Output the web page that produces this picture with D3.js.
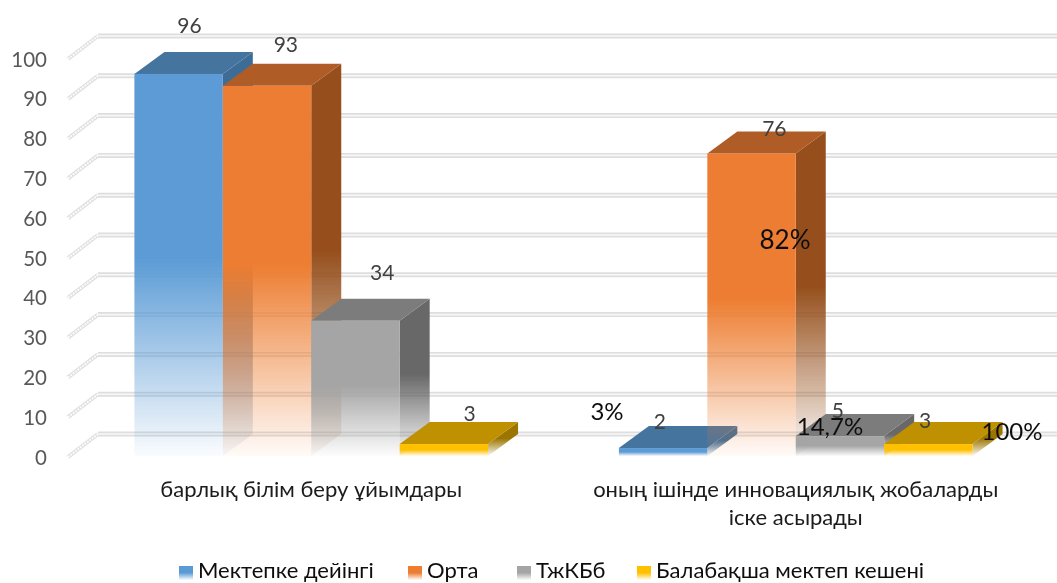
<!DOCTYPE html>
<html>
<head>
<meta charset="utf-8">
<script src="https://cdn.jsdelivr.net/npm/d3@7"></script>
<style>
html, body { margin: 0; padding: 0; background: #fff; }
svg { display: block; }
text { font-family: Lato, "Open Sans", "Noto Sans", sans-serif; }
</style>
</head>
<body>
<svg width="1057" height="583"></svg>
<script>
var categories = ["барлық білім беру ұйымдары", "оның ішінде инновациялық жобаларды іске асырады"];
var seriesNames = ["Мектепке дейінгі", "Орта", "ТжКБб", "Балабақша мектеп кешені"];
var preschool = [96, 2];
var secondary = [93, 76];
var vocational = [34, 5];
var kindergarten = [3, 3];
var yTicks = [0, 10, 20, 30, 40, 50, 60, 70, 80, 90, 100];
var percentNotes = ["3%", "82%", "14,7%", "100%"];

var frontColors = ["#5b9bd5", "#ed7d31", "#a5a5a5", "#ffc000"];
var topColors = ["#44749f", "#b05c25", "#7c7c7c", "#bf9000"];
var sideColors = ["#3e6c96", "#96501d", "#686868", "#9c7500"];

var svg = d3.select("svg");
var defs = svg.append("defs");
var depthX = 30, depthY = -22;

var y = d3.scaleLinear().domain([0, 100]).range([456, 58]);
var x0 = d3.scaleBand().domain(categories).range([69, 1038]).paddingInner(0.27).paddingOuter(0.135);
var x1 = d3.scaleBand().domain(seriesNames).range([0, x0.bandwidth()]);

var allValues = [preschool, secondary, vocational, kindergarten];

function fade(id, color) {
	var g = defs.append("linearGradient").attr("id", id).attr("x1", 0).attr("y1", 0).attr("x2", 0).attr("y2", 1);
	g.append("stop").attr("offset", "48%").attr("stop-color", color).attr("stop-opacity", 1);
	g.append("stop").attr("offset", "100%").attr("stop-color", color).attr("stop-opacity", 0.03);
}
frontColors.forEach(function(c, i) { fade("front" + i, c); });
sideColors.forEach(function(c, i) { fade("side" + i, c); });

defs.append("filter").attr("id", "soft").attr("x", "-2%").attr("y", "-2%").attr("width", "104%").attr("height", "104%")
	.append("feGaussianBlur").attr("stdDeviation", 0.5);
defs.append("filter").attr("id", "softText").attr("x", "-2%").attr("y", "-2%").attr("width", "104%").attr("height", "104%")
	.append("feGaussianBlur").attr("stdDeviation", 0.35);

var chart = svg.append("g").attr("filter", "url(#soft)");

// back wall and side wall grid lines
var grid = chart.append("g");
yTicks.forEach(function(t) {
	var yy = y(t);
	grid.append("line").attr("x1", 68).attr("y1", yy + 1).attr("x2", 68 + depthX).attr("y2", yy + depthY)
		.attr("stroke", "#dedede").attr("stroke-width", 4);
	grid.append("line").attr("x1", 68).attr("y1", yy + 1).attr("x2", 68 + depthX).attr("y2", yy + depthY)
		.attr("stroke", "#fcfcfc").attr("stroke-width", 2).attr("stroke-dasharray", "2 1");
	grid.append("line").attr("x1", 68 + depthX).attr("x2", 1057).attr("y1", yy + depthY).attr("y2", yy + depthY)
		.attr("stroke", "#dedede").attr("stroke-width", 5);
	grid.append("line").attr("x1", 68 + depthX).attr("x2", 1057).attr("y1", yy + depthY).attr("y2", yy + depthY)
		.attr("stroke", "#f8f8f8").attr("stroke-width", 1.6);
});

function poly(pts) {
	return "M" + pts.map(function(p) { return p.join(","); }).join("L") + "Z";
}

// bars, series by series so the faded fronts show what is behind them
var bars = chart.append("g");
seriesNames.forEach(function(name, s) {
	categories.forEach(function(cat, c) {
		var v = allValues[s][c];
		var left = x0(cat) + x1(name), right = left + x1.bandwidth();
		var top = y(v), base = y(0);
		bars.append("path")
			.attr("d", poly([[right, top], [right + depthX, top + depthY], [right + depthX, base + depthY], [right, base]]))
			.attr("fill", "url(#side" + s + ")");
		bars.append("path")
			.attr("d", poly([[left, top], [left + depthX, top + depthY], [right + depthX, top + depthY], [right, top]]))
			.attr("fill", topColors[s]);
		bars.append("rect")
			.attr("x", left).attr("y", top).attr("width", x1.bandwidth()).attr("height", base - top)
			.attr("fill", "url(#front" + s + ")");
	});
});

var labels = svg.append("g").attr("filter", "url(#softText)");

// y axis labels
labels.append("g").selectAll("text").data(yTicks).enter().append("text")
	.attr("x", 47).attr("y", function(d) { return y(d) + 8.5; })
	.attr("text-anchor", "end").attr("font-size", 20.5).attr("fill", "#595959")
	.text(function(d) { return d; });

// value labels were dragged by hand in the original, so each has its own nudge
var labelNudge = [[[55, -41], [41, -19]], [[63, -34], [67, -18]], [[71, -41], [42, -18]], [[70, -23], [41, -16]]];
seriesNames.forEach(function(name, s) {
	categories.forEach(function(cat, c) {
		var v = allValues[s][c];
		labels.append("text")
			.attr("x", x0(cat) + x1(name) + labelNudge[s][c][0])
			.attr("y", y(v) + labelNudge[s][c][1])
			.attr("text-anchor", "middle").attr("font-size", 21).attr("fill", "#404040")
			.text(v);
	});
});

// percent notes typed over the second group
var notePos = [[607, 420], [785, 249], [830, 435], [1012, 440]];
var noteSize = [24, 26, 24, 24];
labels.append("g").selectAll("text").data(percentNotes).enter().append("text")
	.attr("x", function(d, i) { return notePos[i][0]; })
	.attr("y", function(d, i) { return notePos[i][1]; })
	.attr("text-anchor", "middle").attr("fill", "#111")
	.attr("font-size", function(d, i) { return noteSize[i]; })
	.text(function(d) { return d; });

// category labels
labels.append("text").attr("x", x0(categories[0]) + x0.bandwidth() / 2).attr("y", 497)
	.attr("text-anchor", "middle").attr("font-size", 22).attr("fill", "#1a1a1a").text(categories[0]);
var secondCat = labels.append("text").attr("text-anchor", "middle").attr("font-size", 22).attr("fill", "#1a1a1a");
secondCat.append("tspan").attr("x", x0(categories[1]) + x0.bandwidth() / 2).attr("y", 497).text("оның ішінде инновациялық жобаларды");
secondCat.append("tspan").attr("x", x0(categories[1]) + x0.bandwidth() / 2).attr("y", 525).text("іске асырады");

// legend
var legendX = [179, 408, 517, 637];
seriesNames.forEach(function(name, s) {
	svg.append("rect").attr("x", legendX[s]).attr("y", 566).attr("width", 14).attr("height", 14)
		.attr("fill", "url(#front" + s + ")");
	labels.append("text").attr("x", legendX[s] + 19).attr("y", 578).attr("font-size", 22).attr("fill", "#111").text(name);
});
</script>
</body>
</html>
